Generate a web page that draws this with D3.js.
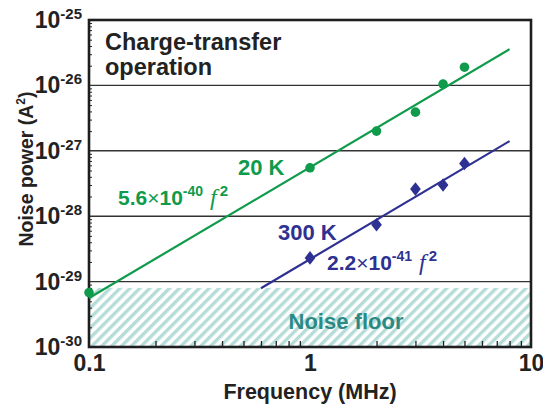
<!DOCTYPE html>
<html>
<head>
<meta charset="utf-8">
<script src="https://cdn.jsdelivr.net/npm/d3@7"></script>
<style>
  html, body { margin: 0; padding: 0; background: #fff; }
  svg { display: block; font-family: "Liberation Sans", Arial, sans-serif; }
</style>
</head>
<body>
<svg id="chart" width="543" height="405"></svg>
<script>
// Measured noise power (A^2) versus frequency (MHz)
const freq20K = [0.1, 1, 2, 3, 4, 5];
const noise20K = [6.8e-30, 5.5e-28, 2.0e-27, 3.9e-27, 1.05e-26, 1.9e-26];
const freq300K = [1, 2, 3, 4, 5];
const noise300K = [2.3e-29, 7.4e-29, 2.6e-28, 3.0e-28, 6.4e-28];

// f^2 fits: coefficient in A^2/Hz^2 and frequency span of the drawn line (MHz)
const fitCoef = [5.6e-40, 2.2e-41];
const fitSpan = [[0.1, 8], [0.6, 8]];
const noiseFloor = 8e-30;

const xTicks = [0.1, 1, 10];
const xTickLabels = ["0.1", "1", "10"];
const yTickExps = [-25, -26, -27, -28, -29, -30];

const green = "#0f9b4b";
const blue = "#2e3191";

const svg = d3.select("#chart");
const L = 89, R = 531, T = 20, B = 347;
const x = d3.scaleLog().domain([0.1, 10]).range([L, R]);
const y = d3.scaleLog().domain([1e-30, 1e-25]).range([B, T]);

// hatched noise-floor region
const defs = svg.append("defs");
const pat = defs.append("pattern")
  .attr("id", "hatch").attr("patternUnits", "userSpaceOnUse")
  .attr("width", 7).attr("height", 7)
  .attr("patternTransform", "rotate(45)");
pat.append("rect").attr("width", 7).attr("height", 7).attr("fill", "#fff");
pat.append("rect").attr("x", 0).attr("width", 3.4).attr("height", 7).attr("fill", "#b5dcd8");

svg.append("rect")
  .attr("x", x(0.1)).attr("y", y(noiseFloor))
  .attr("width", x(10) - x(0.1)).attr("height", y(1e-30) - y(noiseFloor))
  .attr("fill", "url(#hatch)");

svg.append("text")
  .attr("x", 346).attr("y", 329).attr("text-anchor", "middle")
  .attr("font-size", 22).attr("font-weight", "bold").attr("fill", "#2b8a84")
  .text("Noise floor");

// horizontal grid lines at each decade
svg.append("g").selectAll("line")
  .data(yTickExps.slice(1, -1))
  .join("line")
  .attr("x1", L).attr("x2", R)
  .attr("y1", e => y(Math.pow(10, e))).attr("y2", e => y(Math.pow(10, e)))
  .attr("stroke", "#333").attr("stroke-width", 1.4);

// minor ticks pointing into the plot
const xMinor = [];
[0.1, 1].forEach(d => { for (let k = 2; k <= 9; k++) xMinor.push(d * k); });
svg.append("g")
  .attr("transform", `translate(0,${B})`)
  .call(d3.axisBottom(x).tickValues(xMinor).tickSize(-6).tickFormat(""))
  .call(g => g.select(".domain").remove())
  .call(g => g.selectAll("line").attr("stroke", "#222").attr("stroke-width", 1.3));

const yMinor = [];
for (let e = -30; e < -25; e++) for (let k = 2; k <= 9; k++) yMinor.push(k * Math.pow(10, e));
svg.append("g")
  .attr("transform", `translate(${L},0)`)
  .call(d3.axisLeft(y).tickValues(yMinor).tickSize(-3).tickFormat(""))
  .call(g => g.select(".domain").remove())
  .call(g => g.selectAll("line").attr("stroke", "#222").attr("stroke-width", 1));

// x tick labels
svg.append("g")
  .attr("transform", `translate(0,${B})`)
  .call(d3.axisBottom(x).tickValues(xTicks).tickSize(0).tickPadding(8)
    .tickFormat((d, i) => xTickLabels[i]))
  .call(g => g.select(".domain").remove())
  .call(g => g.selectAll("text")
    .attr("font-size", 23).attr("font-weight", "bold").attr("fill", "#222")
    .attr("font-family", "Liberation Sans, Arial, sans-serif"));

// y tick labels: 10 with superscript exponent
const yLab = svg.append("g").selectAll("text")
  .data(yTickExps)
  .join("text")
  .attr("x", 82).attr("y", e => y(Math.pow(10, e)) + 8)
  .attr("text-anchor", "end")
  .attr("font-weight", "bold").attr("fill", "#222");
yLab.append("tspan").attr("font-size", 23).text("10");
yLab.append("tspan").attr("font-size", 15).attr("dy", -9).text(e => "-" + Math.abs(e));

// plot frame
svg.append("rect")
  .attr("x", L).attr("y", T).attr("width", R - L).attr("height", B - T)
  .attr("fill", "none").attr("stroke", "#1e1e1e").attr("stroke-width", 2.6);

// fitted f^2 lines (f in Hz)
const fitLine = d3.line().x(d => x(d[0])).y(d => y(d[1]));
const fits = fitCoef.map((c, i) => fitSpan[i].map(f => [f, c * Math.pow(f * 1e6, 2)]));
svg.append("g").selectAll("path")
  .data(fits)
  .join("path")
  .attr("d", fitLine)
  .attr("fill", "none")
  .attr("stroke", (d, i) => i === 0 ? green : blue)
  .attr("stroke-width", 2.2);

// data markers
svg.append("g").selectAll("path")
  .data(freq20K.map((f, i) => [f, noise20K[i]]))
  .join("path")
  .attr("transform", d => `translate(${x(d[0])},${y(d[1])})`)
  .attr("d", d3.symbol(d3.symbolCircle, 72))
  .attr("fill", green);

svg.append("g").selectAll("path")
  .data(freq300K.map((f, i) => [f, noise300K[i]]))
  .join("path")
  .attr("transform", d => `translate(${x(d[0])},${y(d[1])}) scale(1.15,0.85)`)
  .attr("d", d3.symbol(d3.symbolDiamond, 75))
  .attr("fill", blue);

// annotations
function fitLabel(xp, yp, coef, exp, color) {
  const t = svg.append("text").attr("x", xp).attr("y", yp)
    .attr("font-weight", "bold").attr("fill", color).attr("font-size", 21);
  t.append("tspan").text(coef);
  t.append("tspan").attr("font-weight", "normal").text("\u00d7");
  t.append("tspan").text("10");
  t.append("tspan").attr("font-size", 14).attr("dy", -9).text(exp);
  t.append("tspan").attr("dx", 7).attr("dy", 9)
    .attr("font-family", "Liberation Serif, Times New Roman, serif")
    .attr("font-style", "italic").attr("font-weight", "normal").attr("font-size", 24).text("f");
  t.append("tspan").attr("dx", 3).attr("font-size", 15).attr("dy", -9).text("2");
}

svg.append("text").attr("x", 238).attr("y", 175)
  .attr("font-size", 22).attr("font-weight", "bold").attr("fill", green).text("20 K");
fitLabel(118, 205, "5.6", "-40", green);

svg.append("text").attr("x", 278).attr("y", 240)
  .attr("font-size", 22).attr("font-weight", "bold").attr("fill", blue).text("300 K");
fitLabel(327, 270, "2.2", "-41", blue);

svg.append("text").attr("x", 105).attr("y", 50)
  .attr("font-size", 23.5).attr("font-weight", "bold").attr("fill", "#222").text("Charge-transfer");
svg.append("text").attr("x", 105).attr("y", 75)
  .attr("font-size", 23.5).attr("font-weight", "bold").attr("fill", "#222").text("operation");

// axis titles
svg.append("text").attr("x", 310).attr("y", 399).attr("text-anchor", "middle")
  .attr("font-size", 21.5).attr("font-weight", "bold").attr("fill", "#222")
  .text("Frequency (MHz)");

const yt = svg.append("text")
  .attr("transform", "translate(33,169) rotate(-90)")
  .attr("text-anchor", "middle")
  .attr("font-size", 19.5).attr("font-weight", "bold").attr("fill", "#222");
yt.append("tspan").text("Noise power (A");
yt.append("tspan").attr("font-size", 12).attr("dy", -8).text("2");
yt.append("tspan").attr("dy", 8).text(")");
</script>
</body>
</html>
